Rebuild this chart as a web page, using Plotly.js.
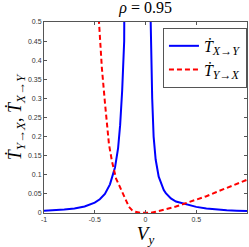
<!DOCTYPE html>
<html>
<head>
<meta charset="utf-8">
<script src="https://cdn.plot.ly/plotly-3.0.1.min.js"></script>
<style>html,body{margin:0;padding:0;background:#fff;}#chart{width:249px;height:247px;}</style>
</head>
<body>
<div id="chart"></div>
<script>
var blueX = [-1, -0.9, -0.8, -0.7, -0.6, -0.5, -0.45, -0.4, -0.35, -0.3, -0.27, -0.25, -0.23, -0.21, -0.19, -0.08, 0.04, 0.05, 0.066, 0.08, 0.1, 0.13, 0.15, 0.18, 0.2, 0.25, 0.3, 0.4, 0.5, 0.6, 0.7, 0.8, 0.9, 1.0];
var blueY = [0.006, 0.007, 0.009, 0.012, 0.017, 0.027, 0.036, 0.05, 0.075, 0.12, 0.17, 0.23, 0.32, 0.45, 0.7, 10, 0.65, 0.5, 0.3, 0.2, 0.14, 0.095, 0.08, 0.06, 0.052, 0.038, 0.03, 0.022, 0.016, 0.012, 0.009, 0.007, 0.006, 0.005];
var redX = [-0.47, -0.46, -0.43, -0.40, -0.385, -0.36, -0.33, -0.31, -0.29, -0.26, -0.213, -0.163, -0.13, -0.1, -0.05, 0, 0.05, 0.1, 0.15, 0.2, 0.3, 0.4, 0.5, 0.6, 0.7, 0.8, 0.9, 1.0];
var redY = [0.55, 0.5, 0.38, 0.29, 0.243, 0.18, 0.135, 0.108, 0.09, 0.073, 0.043, 0.016, 0.007, 0.003, 0.0005, 0, 0.0005, 0.003, 0.006, 0.01, 0.017, 0.026, 0.034, 0.044, 0.055, 0.065, 0.076, 0.087];
var xTickVals = [-1, -0.5, 0, 0.5, 1];
var xTickText = ['-1', '-0.5', '0', '0.5', '1'];
var yTickVals = [0, 0.05, 0.1, 0.15, 0.2, 0.25, 0.3, 0.35, 0.4, 0.45, 0.5];
var yTickText = ['0', '0.05', '0.1', '0.15', '0.2', '0.25', '0.3', '0.35', '0.4', '0.45', '0.5'];

var serif = 'Liberation Serif, DejaVu Serif, serif';
function sub(t, px) { return '<sub><span style="font-size:' + px + 'px">' + t + '</span></sub>'; }
var traces = [
  {x: blueX, y: blueY, mode: 'lines', type: 'scatter', name: '<i>Ṫ</i>' + sub('<i>X</i>→<i>Y</i>', 12),
   line: {color: '#0000ff', width: 2}},
  {x: redX, y: redY, mode: 'lines', type: 'scatter', name: '<i>Ṫ</i>' + sub('<i>Y</i>→<i>X</i>', 12),
   line: {color: '#ff0000', width: 2, dash: '5px,3px'}}
];
var axisCommon = {
  showline: true, linecolor: '#555', linewidth: 1, mirror: 'allticks',
  ticks: 'inside', ticklen: 3, tickcolor: '#555', showgrid: false, zeroline: false,
  tickfont: {family: 'Liberation Sans, Arial, sans-serif', size: 7, color: '#333'}
};
var layout = {
  width: 249, height: 247,
  margin: {l: 44, r: 2, t: 22, b: 34},
  paper_bgcolor: '#fff', plot_bgcolor: '#fff',
  showlegend: true,
  title: {text: '<i>ρ</i> = 0.95', font: {family: serif, size: 16, color: '#000'}, x: 0.585, xanchor: 'center', y: 0.992, yanchor: 'top'},
  xaxis: Object.assign({}, axisCommon, {range: [-1, 1], tickvals: xTickVals, ticktext: xTickText, automargin: false,
    title: {text: '<i>V</i>' + sub('<i>y</i>', 13), font: {family: serif, size: 19, color: '#000'}, standoff: 3}}),
  yaxis: Object.assign({}, axisCommon, {range: [0, 0.5], tickvals: yTickVals, ticktext: yTickText, automargin: false,
    title: {text: '<i>Ṫ</i>' + sub('<i>Y</i>→<i>X</i>', 13) + ', <i>Ṫ</i>' + sub('<i>X</i>→<i>Y</i>', 13), font: {family: serif, size: 18, color: '#000'}, standoff: 0}}),
  legend: {x: 0.586, y: 0.969, xanchor: 'left', yanchor: 'top', bgcolor: '#fff', bordercolor: '#555', borderwidth: 1,
    font: {family: serif, size: 16, color: '#000'}, itemwidth: 30, tracegroupgap: 0}
};
Plotly.newPlot('chart', traces, layout, {staticPlot: true, displayModeBar: false});
</script>
</body>
</html>
